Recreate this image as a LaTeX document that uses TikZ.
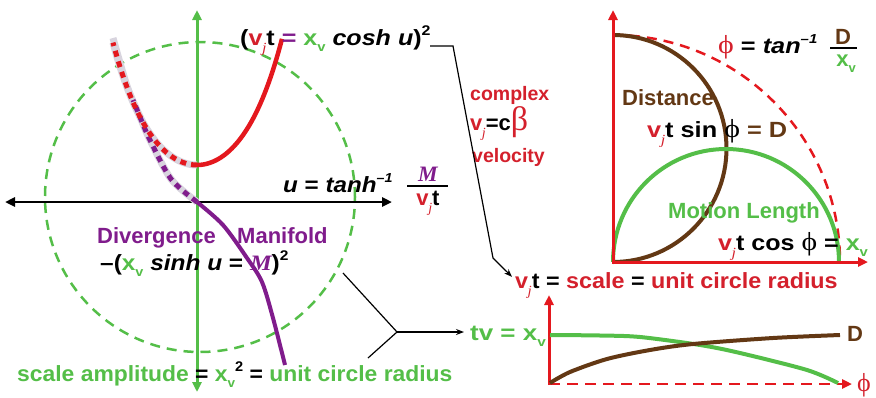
\documentclass[tikz,border=0pt]{standalone}
\usepackage{fontspec}
\setmainfont{Liberation Sans}
\newfontfamily\seriff{Liberation Serif}
\usetikzlibrary{arrows.meta}
\definecolor{cred}{RGB}{228,24,30}
\definecolor{tred}{RGB}{212,32,44}
\definecolor{cgreen}{RGB}{84,190,72}
\definecolor{cpurple}{RGB}{128,28,140}
\definecolor{cbrown}{RGB}{99,56,20}
\definecolor{cgray}{RGB}{216,212,222}
\newcommand{\vj}{\textcolor{tred}{v\kern-0.02em\raisebox{-0.35em}{\seriff\mdseries\itshape\fontsize{14}{14}\selectfont j}}}
\newcommand{\xv}{\textcolor{cgreen}{x\raisebox{-0.3em}{\fontsize{13}{13}\selectfont v}}}
\newcommand{\phis}{{\seriff\mdseries\fontsize{26}{26}\selectfont ϕ}}
\newcommand{\sqr}{\raisebox{0.45em}{\fontsize{14}{14}\selectfont 2}}
\newcommand{\inv}{\raisebox{0.45em}{\fontsize{13}{13}\selectfont\itshape –1}}
\newcommand{\serM}{{\seriff\bfseries\itshape\color{cpurple}M}}
\newcommand{\wide}[2]{\scalebox{#1}[1]{#2}}
\begin{document}
\begin{tikzpicture}[x=1pt,y=-1pt,
  txt/.style={inner sep=0pt, anchor=base west, font=\fontsize{22}{26}\selectfont\bfseries},
  smalltxt/.style={txt, font=\fontsize{19.5}{22}\selectfont\bfseries},
  conn/.style={black, line width=1.2pt},
  axistip/.style={-{Triangle[length=10pt,width=9pt]}},
  bothtip/.style={{Triangle[length=10pt,width=9pt]}-{Triangle[length=10pt,width=9pt]}},
  dashy/.style={line width=2.5pt, dash pattern=on 10pt off 7pt}]
\useasboundingbox (0,0) rectangle (876,397);

% ---------- left diagram ----------
\draw[cgreen, dashy] (200,197) circle[radius=155pt];
\draw[black, line width=2.5pt, bothtip] (5,202) -- (392,202);
\draw[cgreen, line width=3pt, bothtip] (197,392) -- (197,10);

% gray bands for dashed branches
\draw[cgray, line width=7pt] plot[smooth] coordinates {(197,202) (171,179) (150,140) (140,117) (127,86) (113,38)};
\draw[cgray, line width=7pt] plot[domain=-84:0,samples=40] ({197+\x},{165-50*(cosh(\x/44)-1)});
\draw[cpurple, line width=5pt, dash pattern=on 6pt off 5pt] plot[smooth] coordinates {(197,202) (171,179) (150,140) (140,117) (133,100)};
\draw[cred, line width=5pt, dash pattern=on 6pt off 5pt] plot[domain=0:-84,samples=40] ({197+\x},{165-50*(cosh(\x/44)-1)});
\draw[cred, line width=4.5pt] plot[domain=0:85,samples=40] ({197+\x},{165-50*(cosh(\x/44)-1)});
\draw[cpurple, line width=4pt] plot[smooth] coordinates {(197,202) (223,225) (247,258) (262,282) (273,318) (285,365)};

\node[txt] (hdr) at (240,45) {\wide{1.14}{(\vj t \textcolor{cpurple}{=} \xv\ \textit{cosh u})\sqr}};
\node[txt] (ueq) at (283,192) {\wide{1.1}{\textit{u} = \textit{tanh}\inv}};
\node[txt, anchor=base] (fM) at (428,181) {\serM};
\draw[line width=2.2pt] (407,186) -- (448,186);
\node[txt, anchor=base] (fden) at (428,205) {\vj t};

\node[txt, text=cpurple] (div) at (97,243) {Divergence};
\node[txt, text=cpurple] (man) at (237,243) {Manifold};
\node[txt] (sinh) at (100,270) {\wide{1.11}{–(\xv\ \textit{sinh u} = \serM)\sqr}};
\node[txt] (amp) at (17,381) {\wide{1.04}{\textcolor{cgreen}{scale amplitude} = \xv\sqr\ = \textcolor{cgreen}{unit circle radius}}};

% ---------- middle ----------
\node[smalltxt, text=tred] (cx) at (470,100) {complex};
\node[txt] (vc) at (470,130) {\vj=c{\seriff\mdseries\fontsize{34}{34}\selectfont\textcolor{tred}{β}}};
\node[smalltxt, text=tred] (vel) at (472,162) {velocity};

% ---------- right top ----------
\draw[cred, dashy] (613,35) arc[start angle=90, end angle=0, radius=227pt];
\draw[cbrown, line width=4pt] (613,35) arc[start angle=90, end angle=-90, radius=113.5pt];
\draw[cgreen, line width=4pt] (613,262) arc[start angle=180, end angle=0, radius=113pt];
\draw[cred, line width=3pt, axistip] (613,263.5) -- (613,10);
\draw[cred, line width=3pt, axistip] (611.5,262) -- (868,262);

\node[txt] (phieq) at (718,53) {\wide{1.15}{\textcolor{tred}{\phis} = \textit{tan}\inv}};
\node[txt, anchor=base, text=cbrown] (fD) at (843,44) {D};
\draw[line width=2.2pt] (830,48) -- (857,48);
\node[txt, anchor=base] (fx) at (846,66) {\xv};
\node[txt, text=cbrown] (dist) at (622,105) {Distance};
\node[txt] (sin) at (647,137) {\wide{1.15}{\vj t sin \phis\ \textcolor{cbrown}{= D}}};
\node[txt, text=cgreen] (ml) at (668,218) {Motion Length};
\node[txt] (cos) at (718,250) {\wide{1.14}{\vj t cos \phis\ = \xv}};
\node[txt] (scl) at (515,288) {\wide{1.06}{\vj t = \textcolor{tred}{scale} = \textcolor{tred}{unit circle radius}}};

% ---------- right bottom ----------
\draw[cred, line width=2.5pt, dash pattern=on 11pt off 7pt, axistip] (549,384) -- (852,384);
\draw[cred, line width=3pt, axistip] (549,385) -- (549,295);
\draw[cgreen, line width=4pt] plot[smooth] coordinates {(550,335) (600,335.5) (640,337) (700,345) (740,353) (807,370) (838,383)};
\draw[cbrown, line width=4pt] plot[smooth] coordinates {(550,383) (570,372) (607,359) (650,350) (693,344) (773,338) (840,335)};
\node[txt, text=cgreen] (tv) at (470,340) {\wide{1.18}{tv = \xv}};
\node[txt, text=cbrown] (dD) at (847,341) {D};
\node[txt, text=tred] (dphi) at (857,391) {\phis};

% ---------- connectors ----------
\coordinate (c1) at (430,46);
\coordinate (c2) at (453,46);
\coordinate (c3) at (493,258);
\draw[conn, -{Stealth[length=8pt,width=6pt]}] (c1) -- (c2) -- (c3) -- ([shift={(-3,5)}]scl.north west);
\coordinate (b1) at (343,273);
\coordinate (b2) at (368,358);
\coordinate (bj) at (397,332);
\draw[conn] (b1) -- (bj) -- (b2);
\draw[conn, -{Stealth[length=8pt,width=6pt]}] (bj) -- ([xshift=-6pt]tv.west |- bj);
\end{tikzpicture}
\end{document}
